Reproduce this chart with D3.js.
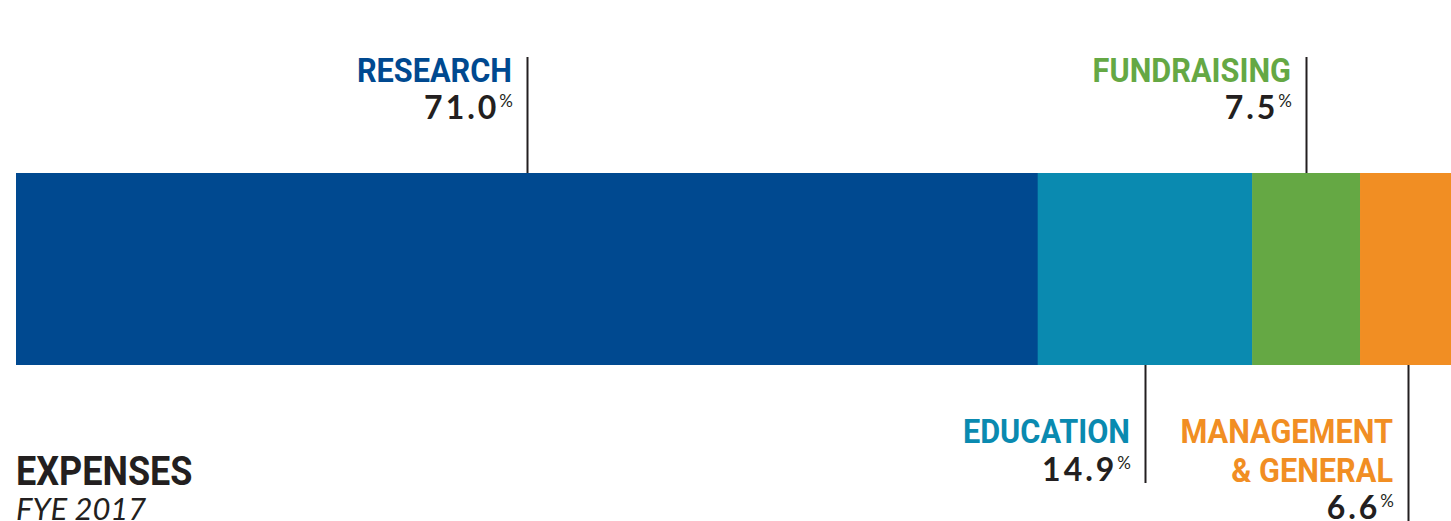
<!DOCTYPE html>
<html>
<head>
<meta charset="UTF-8">
<title>Expenses FYE 2017</title>
<script src="https://cdn.jsdelivr.net/npm/d3@7/dist/d3.min.js"></script>
<style>
  html, body { margin: 0; padding: 0; background: #fff; overflow: hidden; }
</style>
</head>
<body>
<script>
// data
var categories = ["RESEARCH", "EDUCATION", "FUNDRAISING", "MANAGEMENT & GENERAL"];
var labelLines = [["RESEARCH"], ["EDUCATION"], ["FUNDRAISING"], ["MANAGEMENT", "& GENERAL"]];
var values = [71.0, 14.9, 7.5, 6.6];
var colors = ["#004990", "#0a8ab0", "#65a844", "#f18e23"];
var sides = ["top", "bottom", "top", "bottom"];
var title = "EXPENSES";
var subtitle = "FYE 2017";

var width = 1451, height = 521,
    barTop = 173, barBottom = 365,
    ink = "#231f20",
    labelFont = "Roboto, sans-serif";

var svg = d3.select("body").append("svg")
    .attr("width", width)
    .attr("height", height);

var x = d3.scaleLinear().domain([0, d3.sum(values)]).range([16, 1455]);

// squeeze a text horizontally (the original face is a narrow geometric sans)
function squeeze(sel, k) {
  var w = sel.node().getComputedTextLength();
  sel.attr("textLength", w * k).attr("lengthAdjust", "spacingAndGlyphs");
}

// cumulative starts
var starts = [];
values.reduce(function (acc, v) { starts.push(acc); return acc + v; }, 0);

var rows = categories.map(function (c, i) {
  return { name: c, lines: labelLines[i], value: values[i], color: colors[i], side: sides[i], x0: starts[i], x1: starts[i] + values[i] };
});

// bar segments
svg.selectAll("rect.seg")
  .data(rows)
  .enter().append("rect")
  .attr("class", "seg")
  .attr("x", function (d) { return x(d.x0); })
  .attr("y", barTop)
  .attr("width", function (d) { return x(d.x1) - x(d.x0) + 0.5; })
  .attr("height", barBottom - barTop)
  .attr("fill", function (d) { return d.color; });

var g = svg.selectAll("g.lbl")
  .data(rows)
  .enter().append("g")
  .attr("class", "lbl");

// leader lines at segment midpoints
g.append("line")
  .attr("x1", function (d) { return Math.round(x((d.x0 + d.x1) / 2)) + 0.5; })
  .attr("x2", function (d) { return Math.round(x((d.x0 + d.x1) / 2)) + 0.5; })
  .attr("y1", function (d) { return d.side === "top" ? 57 : barBottom; })
  .attr("y2", function (d) { return d.side === "top" ? barTop : 483 + 39 * (d.lines.length - 1); })
  .attr("stroke", ink)
  .attr("stroke-width", 2);

// category names and values
g.each(function (d) {
  var gx = Math.round(x((d.x0 + d.x1) / 2)) - 15;
  var first = d.side === "top" ? 82 : 443;
  var sel = d3.select(this);
  d.lines.forEach(function (t, j) {
    var lt = sel.append("text")
      .attr("x", gx)
      .attr("y", first + j * 39)
      .attr("text-anchor", "end")
      .attr("font-family", labelFont)
      .attr("font-weight", "bold")
      .attr("font-size", 33)
      .attr("fill", d.color)
      .text(t);
    squeeze(lt, 0.93);
  });
  var vy = first + d.lines.length * 38 + (d.side === "top" ? -1 : 0);
  var vt = sel.append("text")
    .attr("x", gx + 1)
    .attr("y", vy)
    .attr("text-anchor", "end")
    .attr("font-family", "Lato, sans-serif")
    .attr("font-weight", "bold")
    .attr("font-size", 32)
    .attr("fill", ink);
  vt.append("tspan")
    .attr("letter-spacing", 3)
    .text(d3.format(".1f")(d.value));
  vt.append("tspan")
    .attr("font-size", 17)
    .attr("font-weight", "normal")
    .attr("dy", -12)
    .text("%");
});

// title
var tt = svg.append("text")
  .attr("x", 16)
  .attr("y", 485)
  .attr("font-family", labelFont)
  .attr("font-weight", "bold")
  .attr("font-size", 40)
  .attr("fill", ink)
  .text(title);
squeeze(tt, 0.9);

svg.append("text")
  .attr("x", 16)
  .attr("y", 520)
  .attr("font-family", "Lato, sans-serif")
  .attr("font-style", "italic")
  .attr("font-weight", "normal")
  .attr("font-size", 31)
  .attr("fill", ink)
  .text(subtitle);
</script>
</body>
</html>
